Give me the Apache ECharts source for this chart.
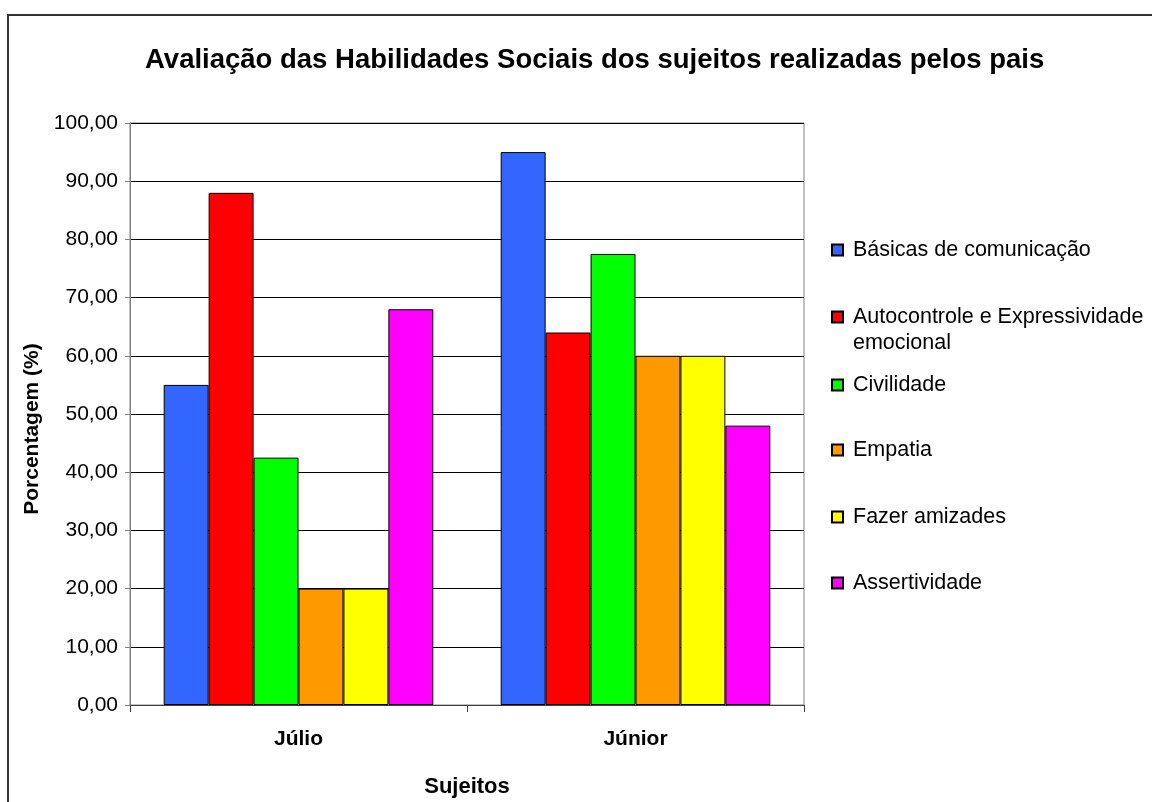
<!DOCTYPE html>
<html>
<head>
<meta charset="utf-8">
<script src="https://cdn.jsdelivr.net/npm/echarts@6/dist/echarts.min.js"></script>
<style>
  html, body { margin: 0; padding: 0; background: #fff; }
  #chart { width: 1152px; height: 802px; }
</style>
</head>
<body>
<div id="chart"></div>
<script>
// dados
const categorias = ['Júlio', 'Júnior']
const nomesSeries = [
  'Básicas de comunicação',
  'Autocontrole e Expressividade\nemocional',
  'Civilidade',
  'Empatia',
  'Fazer amizades',
  'Assertividade'
]
const basicas = [55, 95]
const autocontrole = [88, 64]
const civilidade = [42.5, 77.5]
const empatia = [20, 60]
const amizades = [20, 60]
const assertividade = [68, 48]
const cores = ['#3366FF', '#FF0000', '#00FF00', '#FF9900', '#FFFF00', '#FF00FF']
const legendaTopo = [237, 278, 372, 437, 504, 570]

const valores = [basicas, autocontrole, civilidade, empatia, amizades, assertividade]
const fonte = '"Liberation Sans", Arial, sans-serif'

let myChart = echarts.init(document.getElementById('chart'))

const legendas = nomesSeries.map((nome, i) => ({
  data: [nome],
  orient: 'vertical',
  left: 831,
  top: legendaTopo[i],
  padding: 0,
  itemWidth: 11,
  itemHeight: 11,
  selectedMode: false,
  icon: 'rect',
  // linha vazia antes para o quadrado ficar na altura da primeira linha
  formatter: n => (n.indexOf('\n') >= 0 ? '\n' : '') + n,
  textStyle: {
    color: '#000',
    fontSize: 21.5,
    fontFamily: fonte,
    lineHeight: 26,
    padding: [0, 0, 0, 5]
  }
}))

myChart.setOption({
  backgroundColor: '#fff',
  animation: false,
  title: {
    text: 'Avaliação das Habilidades Sociais dos sujeitos realizadas pelos pais',
    left: 140,
    top: 41,
    textStyle: {
      fontSize: 27.5,
      fontWeight: 'bold',
      fontFamily: fonte,
      color: '#000'
    }
  },
  legend: legendas,
  grid: {
    left: 130,
    right: 348,
    top: 123,
    bottom: 97,
    outerBoundsMode: 'none',
    containLabel: false,
    show: true,
    borderColor: '#808080',
    borderWidth: 1
  },
  xAxis: {
    type: 'category',
    data: categorias,
    name: 'Sujeitos',
    nameLocation: 'middle',
    nameGap: 71,
    nameTextStyle: { fontSize: 22, fontWeight: 'bold', fontFamily: fonte, color: '#000' },
    axisLine: { lineStyle: { color: '#404040', width: 1 } },
    axisTick: { show: true, length: 7, lineStyle: { color: '#404040' } },
    axisLabel: { margin: 24, fontSize: 21, fontWeight: 'bold', fontFamily: fonte, color: '#000' }
  },
  yAxis: {
    type: 'value',
    min: 0,
    max: 100,
    interval: 10,
    name: 'Porcentagem (%)',
    nameLocation: 'middle',
    nameGap: 86,
    nameTextStyle: {
      fontSize: 21,
      fontWeight: 'bold',
      fontFamily: fonte,
      color: '#000',
      padding: [0, 30, 0, 0]
    },
    axisLine: { show: true, lineStyle: { color: '#808080' } },
    axisTick: { show: true, length: 5, lineStyle: { color: '#808080' } },
    axisLabel: {
      margin: 12,
      fontSize: 21,
      fontFamily: fonte,
      color: '#000',
      formatter: v => v.toFixed(2).replace('.', ',')
    },
    splitLine: { show: true, lineStyle: { color: '#000', width: 1 } }
  },
  graphic: [{
    type: 'rect',
    shape: { x: 8, y: 15, width: 1200, height: 850 },
    style: { fill: 'none', stroke: '#333', lineWidth: 2 },
    silent: true
  }],
  series: nomesSeries.map((nome, i) => ({
    name: nome,
    type: 'bar',
    barGap: '0%',
    barCategoryGap: '20%',
    itemStyle: { color: cores[i], borderColor: '#000', borderWidth: 1 },
    data: valores[i]
  }))
})
</script>
</body>
</html>
